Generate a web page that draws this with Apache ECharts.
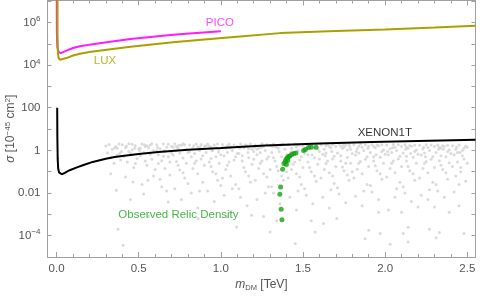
<!DOCTYPE html>
<html><head><meta charset="utf-8">
<script src="https://cdn.jsdelivr.net/npm/echarts@6/dist/echarts.min.js"></script>
<style>html,body{margin:0;padding:0;background:#fff}#c{width:480px;height:296px}</style>
</head><body><div id="c"></div>
<script>
// All sigma values are stored as log10(sigma / 1e-45 cm^2); masses in TeV.
const xTickLabels = [0, 0.5, 1.0, 1.5, 2.0, 2.5];
const xMinorTicks = [0.1,0.2,0.3,0.4,0.6,0.7,0.8,0.9,1.1,1.2,1.3,1.4,1.6,1.7,1.8,1.9,2.1,2.2,2.3,2.4];
const yTickValues = [-4,-3,-2,-1,0,1,2,3,4,5,6,7];
const yLabelValues = [-4,-2,0,2,4,6];
const yLabelTexts = {'-4':'{b|10}{s|−4}','-2':'0.01','0':'1','2':'100','4':'{b|10}{s|4}','6':'{b|10}{s|6}'};

const luxCurve = [[0.006,7.6],[0.006,5.5],[0.008,4.6],[0.012,4.35],[0.02,4.25],[0.032,4.22],[0.06,4.33],[0.1,4.45],[0.143,4.53],[0.2,4.61],[0.305,4.72],[0.45,4.86],[0.709,5.07],[0.9,5.2],[1.116,5.34],[1.36,5.5],[1.7,5.6],[2.0,5.67],[2.3,5.76],[2.55,5.85]];
const picoCurve = [[0.001,7.6],[0.002,5.5],[0.005,4.85],[0.012,4.62],[0.026,4.56],[0.06,4.68],[0.1,4.8],[0.143,4.88],[0.2,4.96],[0.305,5.07],[0.45,5.22],[0.709,5.42],[0.85,5.51],[1.0,5.59]];
const xenonCurve = [[0.004,2.0],[0.005,0.6],[0.007,-0.4],[0.010,-0.85],[0.015,-1.03],[0.022,-1.1],[0.032,-1.12],[0.05,-1.05],[0.08,-0.93],[0.12,-0.81],[0.16,-0.70],[0.22,-0.54],[0.30,-0.39],[0.354,-0.31],[0.40,-0.26],[0.50,-0.17],[0.62,-0.08],[0.80,0.03],[1.0,0.11],[1.27,0.23],[1.6,0.32],[1.92,0.39],[2.2,0.44],[2.55,0.50]];

const relicPoints = [[1.372,-3.25],[1.367,-2.76],[1.359,-2.06],[1.364,-1.72],[1.376,-0.89],[1.384,-0.61],[1.399,-0.66],[1.393,-0.52],[1.396,-0.44],[1.408,-0.47],[1.402,-0.37],[1.408,-0.33],[1.414,-0.28],[1.42,-0.26],[1.432,-0.19],[1.445,-0.14],[1.457,-0.12],[1.504,0.0],[1.515,0.04],[1.534,0.13],[1.55,0.15],[1.58,0.15]];

const scanPoints = [
[0.30,0.21],[0.31,-0.12],[0.32,0.28],[0.33,-0.35],[0.34,0.05],[0.35,-0.6],[0.36,0.18],[0.37,-0.22],[0.38,0.3],[0.39,-0.45],[0.364,-1.87],[0.374,-3.7],[0.33,-1.1],[0.37,0.1],[0.395,-0.05],
[0.40,0.26],[0.41,-0.3],[0.42,0.12],[0.43,-0.55],[0.44,0.31],[0.45,-0.15],[0.46,0.02],[0.47,-0.8],[0.48,0.22],[0.49,-0.38],[0.405,-4.45],[0.465,-1.48],[0.42,-1.25],[0.44,-0.05],[0.46,0.29],[0.48,-0.62],[0.50,0.08],[0.45,-2.3],
[0.51,-0.25],[0.52,0.3],[0.53,-0.1],[0.54,0.18],[0.55,-0.7],[0.556,-1.4],[0.57,0.25],[0.58,-0.42],[0.59,0.0],[0.60,-0.9],[0.52,-1.6],[0.54,-0.5],[0.56,0.12],[0.58,0.31],[0.53,-2.05],[0.57,-0.18],[0.59,-1.2],[0.55,0.22],[0.51,0.1],[0.56,-3.1],
[0.61,0.27],[0.62,-0.2],[0.63,0.08],[0.64,-0.48],[0.65,0.3],[0.66,-0.85],[0.67,0.15],[0.68,-0.3],[0.68,-2.42],[0.69,-1.15],[0.70,0.2],[0.62,-0.62],[0.64,-1.7],[0.66,-0.05],[0.68,0.29],[0.63,-1.35],[0.69,-0.55],[0.61,-0.02],[0.65,-0.28],[0.67,-1.9],[0.70,-0.12],
[0.71,-0.22],[0.72,0.3],[0.73,-0.52],[0.74,0.1],[0.75,-0.92],[0.76,0.24],[0.77,-0.36],[0.78,-1.3],[0.79,0.04],[0.72,-1.8],[0.74,-0.7],[0.76,-2.3],[0.78,0.27],[0.80,-0.1],[0.73,0.18],[0.77,-1.05],[0.79,-0.6],[0.71,0.15],[0.75,-0.12],[0.77,0.31],[0.80,-1.55],
[0.81,0.25],[0.82,-0.3],[0.83,0.1],[0.84,-0.6],[0.85,0.3],[0.86,-1.1],[0.862,-3.2],[0.87,0.0],[0.88,-0.4],[0.89,-1.5],[0.90,0.2],[0.82,-2.0],[0.84,-0.15],[0.86,-2.7],[0.88,0.28],[0.83,-0.85],[0.87,-1.9],[0.89,-0.25],[0.85,-0.5],[0.81,-0.05],[0.86,0.17],[0.90,-0.7],
[0.91,-0.1],[0.92,0.3],[0.93,-0.55],[0.94,0.15],[0.95,-1.0],[0.96,0.25],[0.97,-0.3],[0.98,-1.4],[0.99,0.05],[0.92,-1.9],[0.94,-0.75],[0.96,-2.4],[0.98,0.3],[1.00,-0.2],[0.93,0.2],[0.97,-1.1],[0.99,-0.6],[0.91,0.22],[0.95,-0.02],[0.97,0.12],[0.94,-0.38],[1.00,-1.65],
[1.01,0.28],[1.02,-0.25],[1.03,0.1],[1.035,-3.12],[1.04,-0.7],[1.05,0.3],[1.06,-1.2],[1.07,0.0],[1.08,-0.45],[1.09,-1.6],[1.096,-3.59],[1.10,0.2],[1.02,-2.1],[1.04,-0.1],[1.06,-2.9],[1.08,0.25],[1.03,-0.9],[1.07,-1.8],[1.09,-0.3],[1.05,-0.55],[1.01,-1.3],[1.06,0.16],[1.10,-0.15],[1.04,0.22],
[1.11,-0.15],[1.12,0.3],[1.13,-0.5],[1.14,0.12],[1.15,-1.0],[1.16,0.22],[1.17,-0.35],[1.18,-1.5],[1.187,-3.04],[1.19,0.05],[1.12,-2.2],[1.14,-0.8],[1.16,-2.6],[1.18,0.3],[1.20,-0.05],[1.13,0.2],[1.17,-1.2],[1.19,-0.65],[1.11,-1.8],[1.15,0.26],[1.17,0.08],[1.20,-0.42],[1.13,-0.25],
[1.21,0.25],[1.22,-0.2],[1.23,0.1],[1.24,-0.6],[1.25,0.32],[1.26,-1.1],[1.27,0.0],[1.28,-0.4],[1.29,-1.7],[1.30,0.22],[1.22,-2.3],[1.24,-0.1],[1.26,-3.1],[1.28,0.28],[1.23,-0.85],[1.27,-2.0],[1.29,-0.3],[1.25,-0.5],[1.21,-1.4],[1.26,0.17],[1.30,-3.83],[1.30,-0.9],[1.22,0.05],[1.28,-1.25],
[1.31,-0.1],[1.32,0.3],[1.33,-0.5],[1.34,0.15],[1.35,-0.95],[1.36,0.25],[1.37,-0.3],[1.38,-1.4],[1.39,0.05],[1.32,-2.0],[1.34,-0.75],[1.36,-2.5],[1.38,0.3],[1.40,-0.2],[1.33,0.2],[1.37,-1.2],[1.39,-0.6],[1.31,-1.7],[1.35,0.1],[1.37,0.28],[1.40,-1.0],[1.34,-3.3],[1.32,-0.35],
[1.41,0.28],[1.42,-0.25],[1.43,0.1],[1.44,-0.65],[1.45,0.3],[1.453,-4.37],[1.46,-1.1],[1.47,0.0],[1.48,-0.45],[1.49,-1.6],[1.50,0.2],[1.42,-2.2],[1.44,-0.1],[1.46,-2.8],[1.48,0.25],[1.43,-0.9],[1.47,-1.9],[1.49,-0.3],[1.45,-0.55],[1.41,-1.3],[1.46,0.16],[1.50,-0.8],[1.43,-0.05],[1.48,-1.25],
[1.51,-0.15],[1.52,0.3],[1.53,-0.55],[1.54,0.12],[1.55,-1.0],[1.56,0.22],[1.57,-0.35],[1.574,-3.83],[1.58,-1.45],[1.59,0.05],[1.52,-2.1],[1.54,-0.8],[1.56,-2.5],[1.58,0.3],[1.60,-0.05],[1.53,0.2],[1.57,-1.2],[1.55,-3.3],[1.59,-0.65],[1.51,-1.8],[1.55,0.27],[1.57,0.1],[1.60,-0.4],[1.53,-0.2],
[1.61,0.27],[1.62,-0.18],[1.625,-3.43],[1.63,0.05],[1.64,-0.62],[1.65,0.3],[1.66,-1.05],[1.67,0.12],[1.68,-0.4],[1.69,-1.55],[1.70,0.2],[1.62,-2.2],[1.64,-0.12],[1.66,-2.7],[1.68,0.28],[1.63,-0.9],[1.67,-1.85],[1.69,-0.28],[1.65,-0.5],[1.61,-1.3],[1.66,0.18],[1.70,-0.75],[1.64,0.22],[1.68,-1.2],
[1.706,-3.19],[1.71,-0.12],[1.72,0.3],[1.73,-0.5],[1.74,0.1],[1.75,-0.95],[1.76,0.24],[1.77,-0.33],[1.78,-1.4],[1.79,0.05],[1.72,-2.05],[1.74,-0.78],[1.76,-2.45],[1.78,0.29],[1.80,-0.15],[1.73,0.2],[1.77,-1.15],[1.79,-0.6],[1.71,-1.75],[1.75,0.15],[1.77,0.02],[1.80,-1.0],[1.73,-0.25],[1.76,-0.6],
[1.81,0.26],[1.82,-0.22],[1.83,0.08],[1.84,-0.6],[1.85,0.3],[1.86,-1.1],[1.87,0.0],[1.878,-4.14],[1.88,-0.42],[1.89,-1.6],[1.90,0.2],[1.90,-3.75],[1.82,-2.15],[1.84,-0.12],[1.86,-2.6],[1.88,0.27],[1.83,-0.88],[1.87,-1.9],[1.89,-0.3],[1.85,-0.52],[1.81,-1.3],[1.86,0.15],[1.90,-0.75],[1.84,0.2],
[1.91,-0.1],[1.92,0.28],[1.93,-0.5],[1.94,0.12],[1.95,-0.95],[1.96,0.22],[1.96,-2.9],[1.97,-0.32],[1.97,-3.9],[1.98,-1.35],[1.99,0.02],[1.92,-1.95],[1.94,-0.72],[1.96,-2.3],[1.98,0.27],[2.00,-0.18],[1.93,0.18],[1.97,-1.1],[1.99,-0.6],[1.91,-1.65],[1.95,0.25],[1.98,-0.05],[1.93,-0.3],
[2.01,0.25],[2.02,-0.2],[2.02,-2.8],[2.03,0.08],[2.03,-4.4],[2.04,-0.6],[2.05,0.28],[2.06,-1.05],[2.07,0.0],[2.08,-0.4],[2.09,-1.5],[2.10,0.18],[2.10,-2.9],[2.11,-3.9],[2.04,-0.1],[2.06,-2.2],[2.08,0.26],[2.03,-0.85],[2.07,-1.8],[2.09,-0.28],[2.05,-0.5],[2.01,-1.25],[2.06,0.15],[2.10,-0.75],
[2.11,-0.12],[2.12,0.26],[2.13,-0.5],[2.14,0.1],[2.14,-3.6],[2.14,-4.3],[2.15,-0.95],[2.16,0.2],[2.17,-0.32],[2.18,-1.4],[2.19,0.02],[2.12,-2.0],[2.14,-0.75],[2.16,-2.4],[2.18,0.24],[2.20,-0.18],[2.20,-2.65],[2.13,0.16],[2.17,-1.1],[2.19,-0.6],[2.11,-1.7],[2.15,0.23],[2.18,-0.05],[2.13,-0.28],
[2.21,0.24],[2.22,-0.22],[2.23,0.06],[2.24,-0.6],[2.25,0.27],[2.26,-1.05],[2.27,0.0],[2.27,-3.7],[2.28,-0.42],[2.29,-1.5],[2.30,0.18],[2.30,-2.65],[2.31,-4.1],[2.22,-2.1],[2.24,-0.12],[2.26,-2.3],[2.28,0.25],[2.23,-0.85],[2.27,-1.85],[2.29,-0.3],[2.25,-0.52],[2.21,-1.3],[2.26,0.14],[2.30,-0.8],
[2.31,-0.1],[2.32,0.25],[2.33,-0.48],[2.33,-3.85],[2.34,0.1],[2.35,-0.9],[2.36,0.2],[2.37,-0.3],[2.38,-1.35],[2.39,0.02],[2.39,-2.9],[2.32,-1.9],[2.34,-0.7],[2.36,-2.2],[2.38,0.24],[2.40,-0.15],[2.33,0.15],[2.37,-1.05],[2.39,-0.58],[2.31,-1.6],[2.35,0.22],[2.38,-0.05],[2.34,-0.25],
[2.41,0.22],[2.42,-0.2],[2.43,0.05],[2.44,-0.55],[2.45,0.25],[2.45,-2.6],[2.46,-1.0],[2.47,0.0],[2.48,-0.4],[2.48,-3.9],[2.49,-1.45],[2.50,0.15],[2.42,-1.95],[2.44,-0.1],[2.46,-0.8],[2.47,-0.25],[2.49,0.2],[2.43,-1.2],[2.50,-0.6],[2.45,-1.6],[2.41,-0.75],[2.48,0.1],
[0.355,0.12],[0.425,0.2],[0.505,-0.02],[0.615,0.14],[0.725,-0.02],[0.835,0.22],[0.945,0.02],[1.055,0.12],[1.165,-0.1],[1.245,0.14],[1.355,-0.05],[1.465,0.26],[1.525,0.1],[1.635,-0.25],[1.745,0.27],[1.825,-0.05],[1.945,-0.2],[2.045,0.12],[2.155,-0.15],[2.235,0.15],[2.355,0.05],[2.455,-0.1],
[0.385,-0.15],[0.475,0.1],[0.535,0.26],[0.655,0.0],[0.745,0.24],[0.875,0.15],[0.985,-0.08],[1.115,0.1],[1.205,0.15],[1.315,0.2],[1.425,-0.1],[1.555,-0.2],[1.675,-0.05],[1.785,0.18],[1.895,0.1],[2.015,-0.05],[2.125,0.05],[2.245,-0.3],[2.325,0.05],[2.435,0.15]
];

const FONT = '"Liberation Sans", Arial, sans-serif';
const AXC = '#a0a0a0';
const TXT = '#555';
const X_MIN = -0.055, X_MAX = 2.55, Y_MIN = -5, Y_MAX = 7.03;

function xAxisDef(pos, ticks, len, showLine, showLabel) {
  return {
    type: 'value', position: pos, min: X_MIN, max: X_MAX, gridIndex: 0,
    axisLine: { show: showLine, onZero: false, lineStyle: { color: AXC, width: 1 } },
    axisTick: { show: true, inside: true, length: len, customValues: ticks, lineStyle: { color: AXC } },
    axisLabel: showLabel ? { show: true, customValues: ticks, formatter: v => v.toFixed(1), color: TXT, fontSize: 11.5, fontFamily: FONT, margin: 6 } : { show: false },
    splitLine: { show: false }
  };
}
const xAxes = [
  Object.assign(xAxisDef('bottom', xTickLabels, 5, true, true), {
    name: '{i|m}{d|DM} [TeV]', nameLocation: 'middle', nameGap: 20, nameMoveOverlap: false,
    nameTextStyle: { color: TXT, fontSize: 12, fontFamily: FONT, lineHeight: 15,
      rich: { i: { fontStyle: 'italic', fontSize: 12, fontFamily: FONT, color: TXT, lineHeight: 15 },
              d: { fontSize: 7.5, fontFamily: FONT, color: TXT, verticalAlign: 'bottom', lineHeight: 10 } } }
  }),
  xAxisDef('bottom', xMinorTicks, 3, false, false),
  xAxisDef('top', xTickLabels, 5, true, false),
  xAxisDef('top', xMinorTicks, 3, false, false)
];
const yAxes = [
  {
    type: 'value', position: 'left', min: Y_MIN, max: Y_MAX,
    axisLine: { show: true, onZero: false, lineStyle: { color: AXC } },
    axisTick: { show: true, inside: true, length: 4, customValues: yTickValues, lineStyle: { color: AXC } },
    axisLabel: { show: true, customValues: yLabelValues, formatter: v => yLabelTexts[String(v)],
      color: TXT, fontSize: 11.5, fontFamily: FONT, margin: 7, lineHeight: 15,
      rich: { b: { fontSize: 11.5, fontFamily: FONT, color: TXT, lineHeight: 15 },
              s: { fontSize: 8, fontFamily: FONT, color: TXT, verticalAlign: 'top', lineHeight: 10 } } },
    splitLine: { show: false },
    name: '{i|σ} [10{s|−45} cm{s|2}]', nameLocation: 'middle', nameGap: 29, nameMoveOverlap: false,
    nameTextStyle: { color: TXT, fontSize: 12, fontFamily: FONT, lineHeight: 15,
      rich: { i: { fontStyle: 'italic', fontSize: 12, fontFamily: FONT, color: TXT, lineHeight: 15 },
              s: { fontSize: 8, fontFamily: FONT, color: TXT, verticalAlign: 'top', lineHeight: 10 } } }
  },
  {
    type: 'value', position: 'right', min: Y_MIN, max: Y_MAX,
    axisLine: { show: true, onZero: false, lineStyle: { color: AXC } },
    axisTick: { show: true, inside: true, length: 4, customValues: yTickValues, lineStyle: { color: AXC } },
    axisLabel: { show: false }, splitLine: { show: false }
  }
];

const annotations = [
  { name: 'PICO', value: [0.994, 6.0], label: { color: '#ff1aff' } },
  { name: 'LUX', value: [0.295, 4.22], label: { color: '#aaa000' } },
  { name: 'XENON1T', value: [1.998, 0.81], label: { color: '#000' } },
  { name: 'Observed Relic Density', value: [0.742, -3.0], label: { color: '#1aa51a' } }
];

const chart = echarts.init(document.getElementById('c'), null, { renderer: 'canvas' });
chart.setOption({
  animation: false,
  backgroundColor: '#fff',
  grid: { left: 47.5, right: 4.5, top: 0.5, bottom: 39, containLabel: false, outerBoundsMode: 'none' },
  xAxis: xAxes,
  yAxis: yAxes,
  series: [
    { type: 'scatter', data: scanPoints, symbol: 'circle', symbolSize: 3, itemStyle: { color: '#d2d2d2' }, silent: true, z: 1 },
    { type: 'line', data: picoCurve, showSymbol: false, lineStyle: { color: '#ff1aff', width: 2 }, clip: true, z: 3 },
    { type: 'line', data: luxCurve, showSymbol: false, lineStyle: { color: '#aaa000', width: 2 }, clip: true, z: 4 },
    { type: 'line', data: xenonCurve, showSymbol: false, lineStyle: { color: '#000', width: 2 }, clip: true, z: 4 },
    { type: 'scatter', data: relicPoints, symbol: 'circle', symbolSize: 5, itemStyle: { color: '#13a313' }, z: 5 },
    { type: 'scatter', data: annotations, symbolSize: 0, silent: true, z: 6,
      label: { show: true, position: 'inside', formatter: '{b}', fontSize: 11.5, fontFamily: FONT } }
  ]
});
</script></body></html>
